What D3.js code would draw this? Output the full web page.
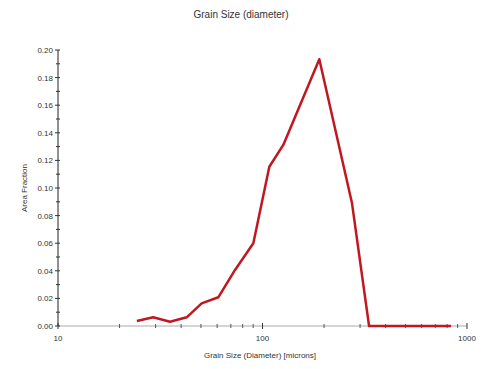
<!DOCTYPE html>
<html>
<head>
<meta charset="utf-8">
<script src="https://cdn.jsdelivr.net/npm/d3@7"></script>
<style>
  body { margin: 0; background: #fff; }
  text { font-family: "Liberation Sans", Arial, sans-serif; fill: #333; }
</style>
</head>
<body>
<div id="chart"></div>
<script>
// grain size (microns) vs area fraction
var sizes = [24.3, 29.2, 35.3, 42.6, 50.4, 60.8, 73.4, 90.2, 108, 126.4, 189.6, 274, 332, 836];
var fractions = [0.0036, 0.0063, 0.0031, 0.0063, 0.0164, 0.0208, 0.0406, 0.060, 0.1154, 0.1312, 0.1933, 0.0889, 0, 0];
var yTicks = [0, 0.02, 0.04, 0.06, 0.08, 0.10, 0.12, 0.14, 0.16, 0.18, 0.20];
var xTicks = [10, 100, 1000];

var width = 483, height = 369;
var margin = {left: 58, right: 16, top: 50, bottom: 43};

var svg = d3.select("#chart").append("svg")
    .attr("width", width)
    .attr("height", height);

var x = d3.scaleLog()
    .domain([10, 1000])
    .range([margin.left, width - margin.right]);
var y = d3.scaleLinear()
    .domain([0, 0.2])
    .range([height - margin.bottom, margin.top]);

// title
svg.append("text")
    .attr("x", 241)
    .attr("y", 18)
    .attr("text-anchor", "middle")
    .style("font-size", "10px")
    .text("Grain Size (diameter)");

// x axis line + ticks
var minorX = [];
[10, 100].forEach(function(d){
    for (var k = 2; k <= 9; k++) minorX.push(d * k);
});
svg.append("line")
    .attr("x1", x(10)).attr("x2", x(1000))
    .attr("y1", y(0)).attr("y2", y(0))
    .attr("stroke", "#aaa");
svg.selectAll(".xminor")
    .data(minorX)
    .enter()
    .append("line")
    .attr("x1", function(d){return x(d);})
    .attr("x2", function(d){return x(d);})
    .attr("y1", y(0) - 2)
    .attr("y2", y(0) + 2)
    .attr("stroke", "#555");
svg.selectAll(".xmajor")
    .data(xTicks)
    .enter()
    .append("line")
    .attr("x1", function(d){return x(d);})
    .attr("x2", function(d){return x(d);})
    .attr("y1", y(0) - 3)
    .attr("y2", y(0) + 3)
    .attr("stroke", "#333");
svg.selectAll(".xlabel")
    .data(xTicks)
    .enter()
    .append("text")
    .attr("x", function(d){return x(d);})
    .attr("y", y(0) + 15)
    .attr("text-anchor", "middle")
    .style("font-size", "8px")
    .text(function(d){return d3.format(".1f")(d) === "10.0" ? "10" : String(d);});

// y axis line + ticks
svg.append("line")
    .attr("x1", x(10)).attr("x2", x(10))
    .attr("y1", y(0)).attr("y2", y(0.2))
    .attr("stroke", "#222");
var minorY = d3.range(0.01, 0.2, 0.02);
svg.selectAll(".yminor")
    .data(minorY)
    .enter()
    .append("line")
    .attr("x1", x(10) - 2)
    .attr("x2", x(10) + 2)
    .attr("y1", function(d){return y(d);})
    .attr("y2", function(d){return y(d);})
    .attr("stroke", "#333");
svg.selectAll(".ymajor")
    .data(yTicks)
    .enter()
    .append("line")
    .attr("x1", x(10) - 3)
    .attr("x2", x(10) + 2)
    .attr("y1", function(d){return y(d);})
    .attr("y2", function(d){return y(d);})
    .attr("stroke", "#333");
svg.selectAll(".ylabel")
    .data(yTicks)
    .enter()
    .append("text")
    .attr("x", x(10) - 5)
    .attr("y", function(d){return y(d) + 3;})
    .attr("text-anchor", "end")
    .style("font-size", "8px")
    .text(function(d){return d3.format(".2f")(d);});

// axis titles
svg.append("text")
    .attr("transform", "translate(27," + y(0.1) + ") rotate(-90)")
    .attr("text-anchor", "middle")
    .style("font-size", "8px")
    .text("Area Fraction");
svg.append("text")
    .attr("x", 260)
    .attr("y", 358)
    .attr("text-anchor", "middle")
    .style("font-size", "8px")
    .text("Grain Size (Diameter) [microns]");

// data line
var pts = sizes.map(function(d, i){return [d, fractions[i]];});
var line = d3.line()
    .x(function(d){return x(d[0]);})
    .y(function(d){return y(d[1]);});
svg.append("path")
    .datum(pts)
    .attr("d", line)
    .attr("fill", "none")
    .attr("stroke", "#c01820")
    .attr("stroke-width", 2.5)
    .attr("stroke-linejoin", "round");
</script>
</body>
</html>
